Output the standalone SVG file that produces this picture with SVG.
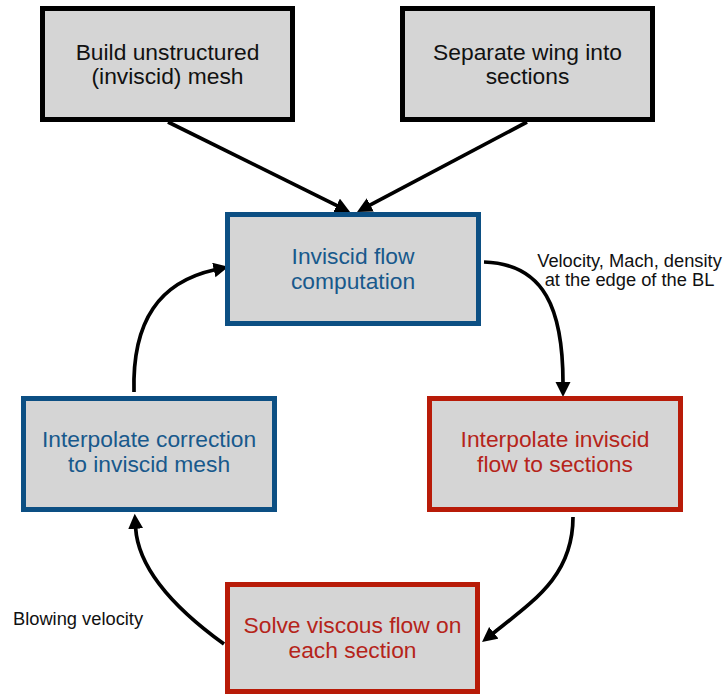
<svg xmlns="http://www.w3.org/2000/svg" width="727" height="695" viewBox="0 0 727 695">
<style>
  .box { fill: #d5d5d5; stroke-width: 5; }
  .k { stroke: #000; }
  .b { stroke: #0c4f83; }
  .r { stroke: #b81b08; }
  .t { font-family: "Liberation Sans", Helvetica, Arial, sans-serif; font-size: 22.8px; text-anchor: middle; }
  .tk { fill: #111; }
  .tb { fill: #18598c; }
  .tr { fill: #b5241a; }
  .lbl { font-family: "Liberation Sans", Helvetica, Arial, sans-serif; font-size: 18.3px; fill: #111; }
  .conn { fill: none; stroke: #000; stroke-width: 3.7; marker-end: url(#ah); }
</style>
<defs>
  <marker id="ah" markerUnits="userSpaceOnUse" markerWidth="18" markerHeight="18" refX="1" refY="7.5" orient="auto">
    <path d="M0,0 L15,7.5 L0,15 z" fill="#000"/>
  </marker>
</defs>
<rect width="727" height="695" fill="#fff"/>

<g id="connectors">
  <path class="conn" d="M168,122 L337.5,205.8"/>
  <path class="conn" d="M527,122 L369.4,205.4"/>
  <path class="conn" d="M484,262 C545,264 563,310 563,383"/>
  <path class="conn" d="M573,517 C573,575 535,600 493,633.4"/>
  <path class="conn" d="M224,644 C170,605 138,565 135.6,527.8"/>
  <path class="conn" d="M134,392 C132,320 160,282 214.8,269.8"/>
</g>

<g id="build-mesh">
  <rect class="box k" x="42.5" y="8.5" width="250" height="111"/>
  <text class="t tk" x="167.5" y="60">Build unstructured</text>
  <text class="t tk" x="167.5" y="84">(inviscid) mesh</text>
</g>

<g id="separate-wing">
  <rect class="box k" x="402.5" y="8.5" width="250" height="111"/>
  <text class="t tk" x="527.5" y="60">Separate wing into</text>
  <text class="t tk" x="527.5" y="84">sections</text>
</g>

<g id="inviscid-flow">
  <rect class="box b" x="227.5" y="214.5" width="251" height="109"/>
  <text class="t tb" x="353" y="264">Inviscid flow</text>
  <text class="t tb" x="353" y="289">computation</text>
</g>

<g id="interp-inviscid">
  <rect class="box r" x="429.5" y="398.5" width="251" height="111"/>
  <text class="t tr" x="555" y="447">Interpolate inviscid</text>
  <text class="t tr" x="555" y="472">flow to sections</text>
</g>

<g id="solve-viscous">
  <rect class="box r" x="227.5" y="584.5" width="250" height="107"/>
  <text class="t tr" x="352.5" y="633">Solve viscous flow on</text>
  <text class="t tr" x="352.5" y="658">each section</text>
</g>

<g id="interp-correction">
  <rect class="box b" x="23.5" y="398.5" width="251" height="111"/>
  <text class="t tb" x="149" y="447">Interpolate correction</text>
  <text class="t tb" x="149" y="472">to inviscid mesh</text>
</g>

<g id="labels">
  <text class="lbl" x="629.5" y="267" text-anchor="middle">Velocity, Mach, density</text>
  <text class="lbl" x="629.5" y="286" text-anchor="middle">at the edge of the BL</text>
  <text class="lbl" x="13" y="625">Blowing velocity</text>
</g>
</svg>
